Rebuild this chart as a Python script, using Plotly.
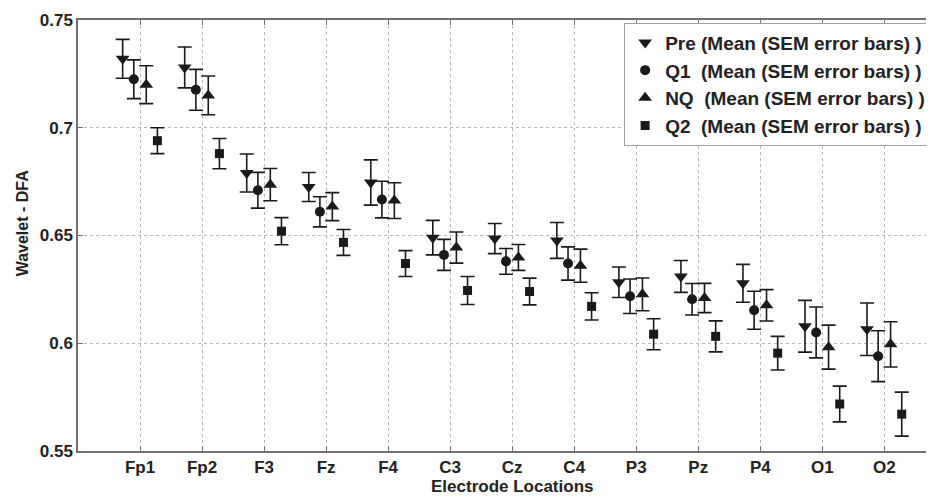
import plotly.graph_objects as go

electrodes = ["Fp1", "Fp2", "F3", "Fz", "F4", "C3", "Cz", "C4", "P3", "Pz", "P4", "O1", "O2"]

pre_mean = [0.732, 0.728, 0.679, 0.6725, 0.6746, 0.649, 0.6486, 0.6477, 0.6283, 0.631, 0.6278, 0.6079, 0.6065]
pre_sem = [0.009, 0.0095, 0.0088, 0.0067, 0.0105, 0.008, 0.007, 0.0083, 0.0071, 0.0074, 0.0088, 0.012, 0.0122]

q1_mean = [0.7225, 0.7176, 0.671, 0.661, 0.6667, 0.641, 0.638, 0.637, 0.6218, 0.6204, 0.6153, 0.605, 0.594]
q1_sem = [0.009, 0.0095, 0.0083, 0.007, 0.0085, 0.0072, 0.006, 0.0077, 0.008, 0.0073, 0.0088, 0.0118, 0.0118]

nq_mean = [0.720, 0.715, 0.6736, 0.6634, 0.6662, 0.6444, 0.6398, 0.636, 0.6227, 0.621, 0.6176, 0.5982, 0.5995]
nq_sem = [0.0088, 0.009, 0.0075, 0.0065, 0.0083, 0.0072, 0.006, 0.0077, 0.0076, 0.0068, 0.0073, 0.0102, 0.0105]

q2_mean = [0.694, 0.688, 0.652, 0.6468, 0.637, 0.6245, 0.624, 0.6171, 0.6042, 0.6032, 0.5954, 0.5718, 0.5671]
q2_sem = [0.006, 0.007, 0.0063, 0.006, 0.006, 0.0065, 0.0062, 0.0063, 0.0072, 0.0072, 0.0078, 0.0083, 0.0102]

series_names = [
    "Pre (Mean (SEM error bars) )",
    "Q1\u00a0 (Mean (SEM error bars) )",
    "NQ\u00a0 (Mean (SEM error bars) )",
    "Q2\u00a0 (Mean (SEM error bars) )",
]
y_ticks = [0.55, 0.6, 0.65, 0.7, 0.75]

# styling
offsets = [-0.28, -0.1, 0.1, 0.28]
symbols = ["triangle-down", "circle", "triangle-up", "square"]
sizes = [12, 10, 12, 9]
INK = "#1a1a1a"
TXT = "#222222"
FONT = "Liberation Sans, Arial, sans-serif"
FS = 17

fig = go.Figure()
base_x = list(range(1, len(electrodes) + 1))
for i, (m, e) in enumerate([(pre_mean, pre_sem), (q1_mean, q1_sem), (nq_mean, nq_sem), (q2_mean, q2_sem)]):
    fig.add_trace(go.Scatter(
        x=[b + offsets[i] for b in base_x],
        y=m,
        mode="markers",
        name=series_names[i],
        legendgroup=f"g{i}",
        marker=dict(symbol=symbols[i], size=sizes[i], color=INK, line=dict(width=0)),
        error_y=dict(type="data", array=e, visible=True, color=INK, thickness=1.6, width=7),
    ))

tf = dict(family=FONT, size=FS, color=TXT, weight="bold")

fig.update_layout(
    width=926, height=488,
    margin=dict(l=70, r=0, t=12, b=45, autoexpand=False),
    plot_bgcolor="white", paper_bgcolor="white",
    font=tf,
    showlegend=True,
    legend=dict(
        x=0.638, y=0.994, xanchor="left", yanchor="top",
        bgcolor="white", bordercolor="#a0a0a0", borderwidth=1,
        font=dict(family=FONT, size=19, color=TXT, weight="bold"),
        tracegroupgap=0,
    ),
    xaxis=dict(
        range=[0, 13.8],
        tickmode="array", tickvals=base_x, ticktext=electrodes,
        showline=True, linecolor="#707070", linewidth=1.5, mirror="ticks",
        ticks="inside", ticklen=5, tickcolor="#707070",
        showgrid=True, gridcolor="#b8b8b8", griddash="dot", gridwidth=1,
        zeroline=False,
        tickfont=tf,
    ),
    yaxis=dict(
        range=[0.55, 0.75],
        tickmode="array", tickvals=y_ticks, ticktext=[f"{v:g}" for v in y_ticks],
        showline=True, linecolor="#707070", linewidth=1.5, mirror=False,
        ticks="inside", ticklen=5, tickcolor="#707070",
        showgrid=True, gridcolor="#b8b8b8", griddash="dot", gridwidth=1,
        zeroline=False,
        tickfont=tf,
    ),
)

fig.add_annotation(
    text="Electrode Locations", xref="x", x=7, yref="paper", y=-0.083,
    showarrow=False, yanchor="middle", xanchor="center", font=tf,
)
fig.add_annotation(
    text="Wavelet - DFA", xref="paper", x=-0.065, yref="paper", y=0.529,
    showarrow=False, yanchor="middle", xanchor="center", textangle=-90,
    font=dict(family=FONT, size=16, color=TXT, weight="bold"),
)

fig.write_html("out.html")
